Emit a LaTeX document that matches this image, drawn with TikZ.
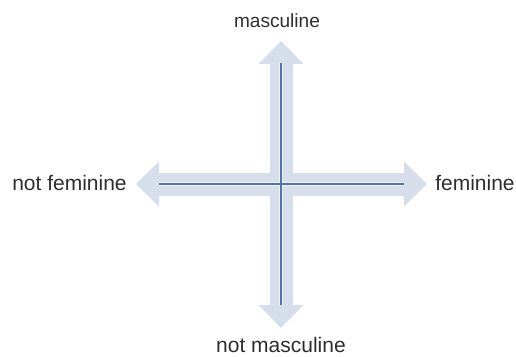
\documentclass[tikz,border=0pt]{standalone}
\usepackage{fontspec}
\setmainfont{Liberation Sans}
\usetikzlibrary{arrows.meta}
\definecolor{AxFill}{HTML}{D5DEEA}
\definecolor{AxLine}{HTML}{5275A8}
\definecolor{AxGlow}{HTML}{EEF3F9}
\definecolor{AxText}{HTML}{2E2E2E}

\begin{document}
\begin{tikzpicture}[x=0.75pt,y=-0.75pt,
  axisarrow/.style={draw=AxFill,fill=AxFill,line width=17.25pt,{Triangle[width=33.75pt 0,length=17.25pt 0,line width=0pt]}-{Triangle[width=33.75pt 0,length=17.25pt 0,line width=0pt]}},
  axisglow/.style={draw=AxGlow,line width=3.2pt},
  axisline/.style={draw=AxLine,line width=1.3pt},
  lab/.style={text=AxText,inner sep=0pt,font=\fontsize{15.75}{18}\selectfont}]
\path[use as bounding box] (0,0) rectangle (516,356);
% axis ends
\coordinate (top) at (281,41);
\coordinate (bot) at (281,328);
\coordinate (lft) at (136,184);
\coordinate (rgt) at (427,184);
\coordinate (topin) at (281,63);
\coordinate (botin) at (281,305);
\coordinate (lftin) at (159,184);
\coordinate (rgtin) at (404,184);
% broad arrows
\draw[axisarrow] (lft) -- (rgt);
\draw[axisarrow] (bot) -- (top);
% thin axis lines
\draw[axisglow] (lftin) -- (rgtin);
\draw[axisglow] (topin) -- (botin);
\draw[axisline] (lftin) -- (rgtin);
\draw[axisline] (topin) -- (botin);
% labels
\node[lab,anchor=base,font=\fontsize{14.3}{16}\selectfont] (masc) at (277,28) {masculine};
\node[lab,anchor=base] (notmasc) at (281,352) {not masculine};
\node[lab,anchor=base west] (notfem) at (12,190) {not feminine};
\node[lab,anchor=base west] (fem) at (435,190) {feminine};
\end{tikzpicture}
\end{document}
